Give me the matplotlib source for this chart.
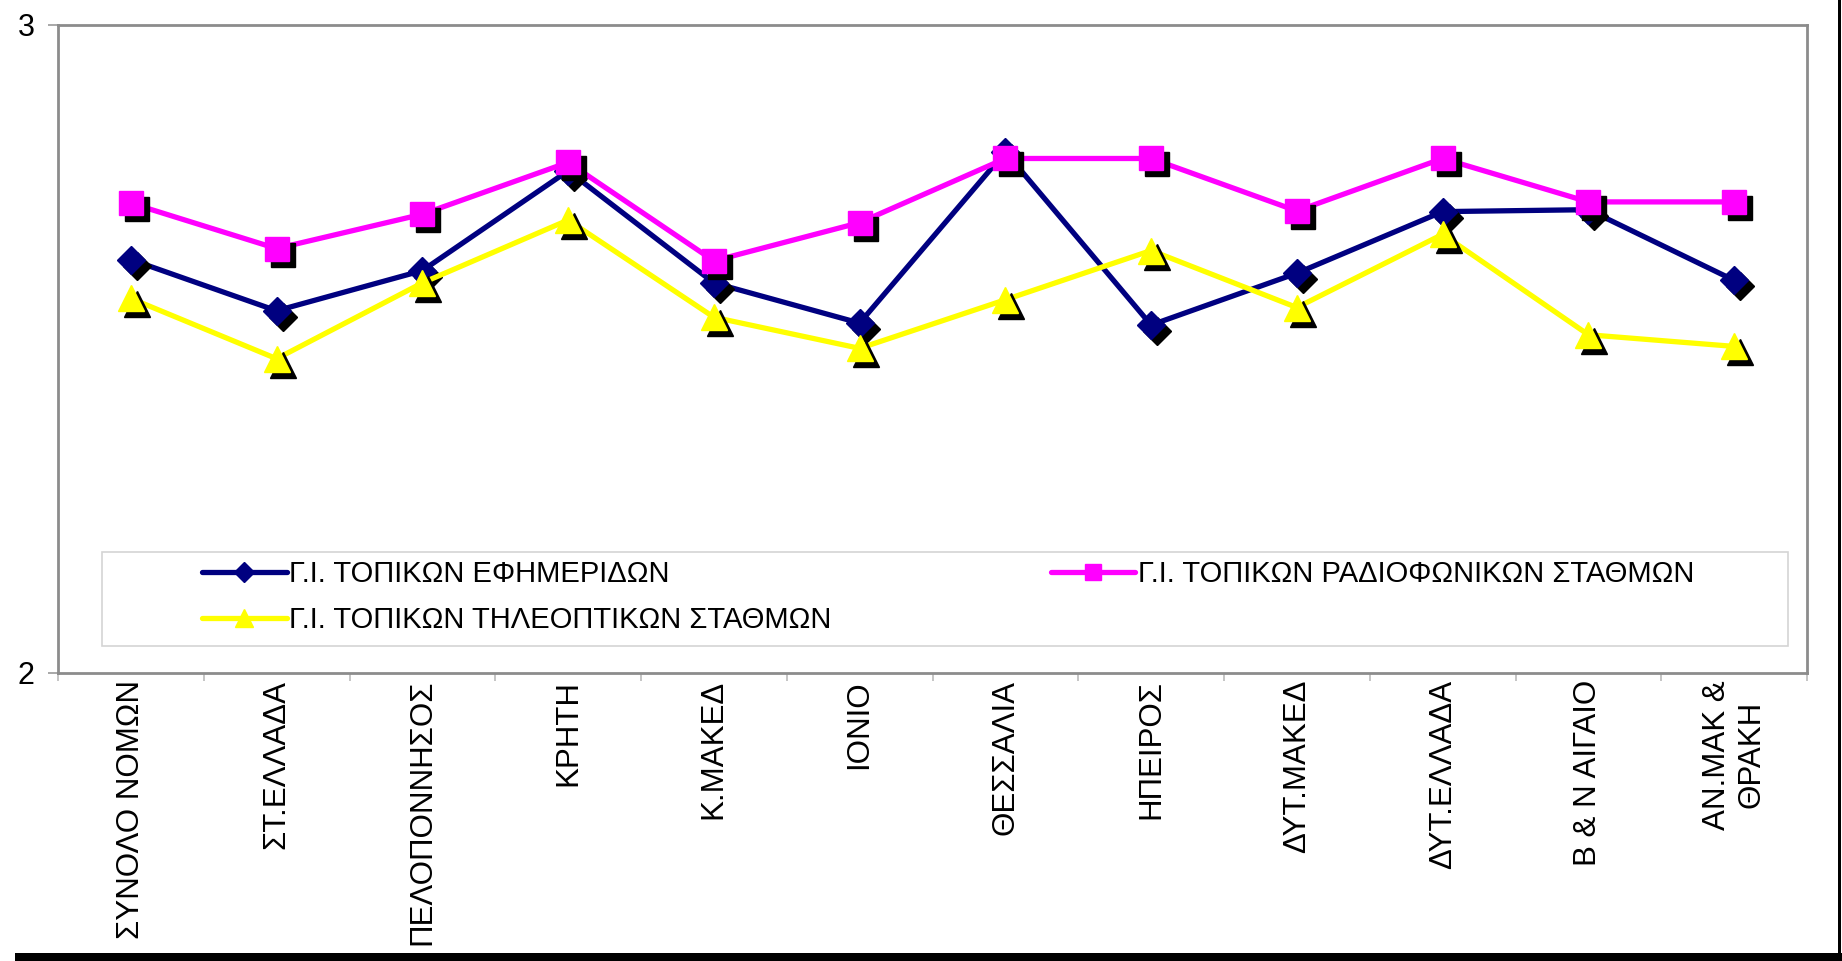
import matplotlib
matplotlib.use("Agg")
import matplotlib.pyplot as plt
from matplotlib.lines import Line2D
from matplotlib.patches import Rectangle
from matplotlib.transforms import offset_copy

plt.rcParams["font.family"] = ["Liberation Sans", "DejaVu Sans"]

# Regions (x axis categories)
regions = [
    "ΣΥΝΟΛΟ ΝΟΜΩΝ", "ΣΤ.ΕΛΛΑΔΑ", "ΠΕΛΟΠΟΝΝΗΣΟΣ", "ΚΡΗΤΗ", "Κ.ΜΑΚΕΔ", "ΙΟΝΙΟ",
    "ΘΕΣΣΑΛΙΑ", "ΗΠΕΙΡΟΣ", "ΔΥΤ.ΜΑΚΕΔ", "ΔΥΤ.ΕΛΛΑΔΑ", "Β & Ν ΑΙΓΑΙΟ", "ΑΝ.ΜΑΚ &\nΘΡΑΚΗ",
]

# Series values
newspapers = [2.638, 2.559, 2.621, 2.775, 2.602, 2.540, 2.804, 2.537, 2.617, 2.712, 2.715, 2.606]
radio = [2.725, 2.655, 2.708, 2.788, 2.636, 2.695, 2.794, 2.794, 2.713, 2.794, 2.727, 2.727]
tv = [2.578, 2.485, 2.602, 2.699, 2.549, 2.501, 2.576, 2.652, 2.564, 2.677, 2.522, 2.504]

labels = [
    "Γ.Ι. ΤΟΠΙΚΩΝ ΕΦΗΜΕΡΙΔΩΝ",
    "Γ.Ι. ΤΟΠΙΚΩΝ ΡΑΔΙΟΦΩΝΙΚΩΝ ΣΤΑΘΜΩΝ",
    "Γ.Ι. ΤΟΠΙΚΩΝ ΤΗΛΕΟΠΤΙΚΩΝ ΣΤΑΘΜΩΝ",
]

W, H = 1842, 961
fig = plt.figure(figsize=(W / 100, H / 100), dpi=100)
ax = fig.add_axes([58 / W, 1 - 673 / H, 1749 / W, 648 / H])

x = list(range(len(regions)))
shadow = offset_copy(ax.transData, fig=fig, x=6, y=-6, units="dots")

series = [
    (newspapers, "#000080", "D", 14),
    (radio, "#FF00FF", "s", 17),
    (tv, "#FFFF00", "^", 19),
]
handles = []
for i, (vals, color, marker, ms) in enumerate(series):
    z = 3 + i * 3
    ax.plot(x, vals, color=color, lw=3.8, zorder=z, solid_joinstyle="miter")
    ax.plot(x, vals, ls="none", marker=marker, ms=ms, color="black",
            mec="black", transform=shadow, zorder=z + 1)
    ax.plot(x, vals, ls="none", marker=marker, ms=ms, color=color,
            mec=color, zorder=z + 2)
    handles.append(Line2D([], [], color=color, lw=3.8, marker=marker,
                          ms=ms * 0.7, mec=color, solid_capstyle="round"))

ax.set_xlim(-0.5, len(regions) - 0.5)
ax.set_ylim(2, 3)
ax.set_yticks([2, 3])
ax.set_yticklabels(["2", "3"], fontsize=22)
ax.tick_params(axis="y", length=7, width=1.2, color="#999999", pad=10)

ax.set_xticks(x)
ax.set_xticklabels(regions, rotation=90, fontsize=22.5, va="top", ha="center",
                   multialignment="center")
ax.set_xticks([i - 0.5 for i in range(len(regions) + 1)], minor=True)
ax.tick_params(axis="x", which="major", length=0, pad=5)
ax.tick_params(axis="x", which="minor", length=6, width=1.2, color="#bbbbbb")

for s in ax.spines.values():
    s.set_color("#8c8c8c")
    s.set_linewidth(2)

# legend box
ax.add_patch(Rectangle((0.0252, 0.0417), 0.9638, 0.145, transform=ax.transAxes,
                       fill=False, ec="#d4d4d4", lw=1.2, zorder=2))
order = [0, 2, 1]
ax.legend([handles[k] for k in order], [labels[k] for k in order], ncol=2,
          loc="upper left", bbox_to_anchor=(0.0823, 0.174), frameon=False,
          fontsize=21, handlelength=2.9, handletextpad=0.1, columnspacing=7.5,
          borderpad=0, borderaxespad=0, labelspacing=0.62)

# black border strokes of the original image
fig.add_artist(Rectangle((15 / W, 0), 1 - 15 / W, 8 / H, transform=fig.transFigure,
                         color="black", lw=0))
fig.add_artist(Rectangle((1838 / W, 0), 3 / W, 1, transform=fig.transFigure,
                         color="black", lw=0))

fig.savefig("out.png", dpi=100)
